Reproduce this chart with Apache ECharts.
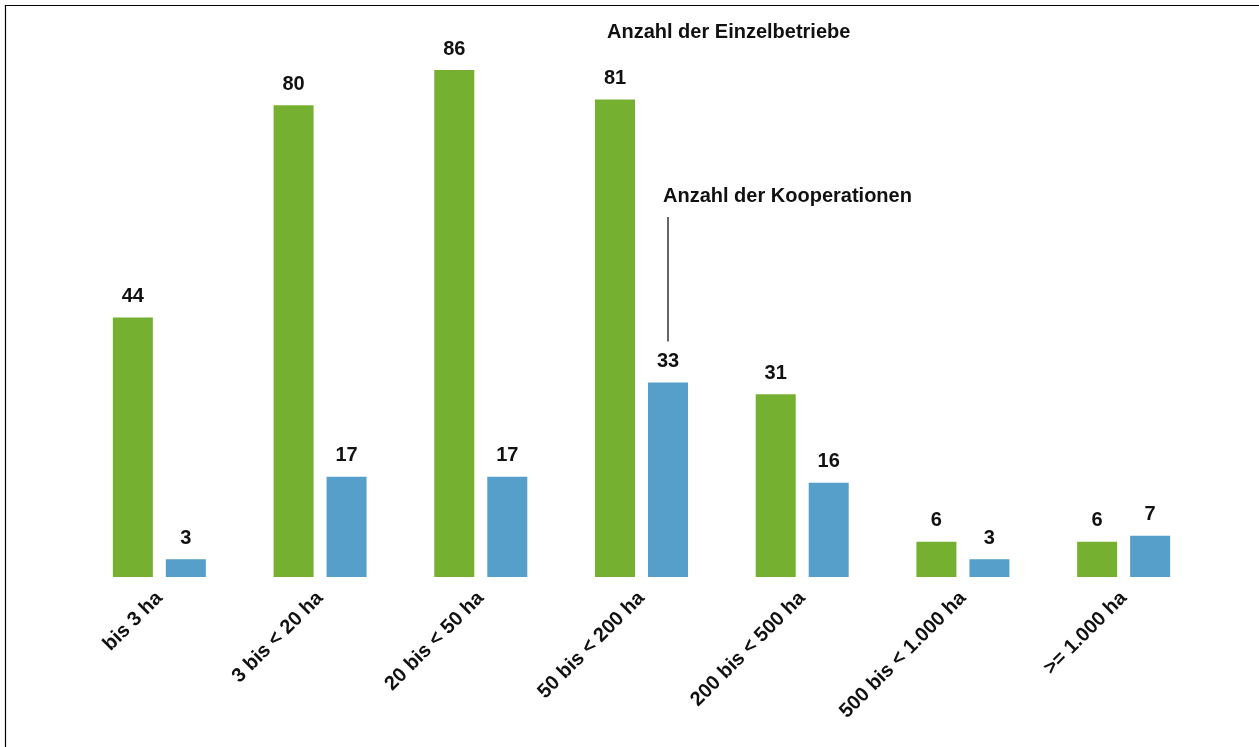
<!DOCTYPE html>
<html>
<head>
<meta charset="utf-8">
<script src="https://cdn.jsdelivr.net/npm/echarts@6/dist/echarts.min.js"></script>
<style>
html,body{margin:0;padding:0;background:#fff;}
#chart{width:1259px;height:747px;}
</style>
</head>
<body>
<div id="chart"></div>
<script>
const categories = ['bis 3 ha', '3 bis < 20 ha', '20 bis < 50 ha', '50 bis < 200 ha', '200 bis < 500 ha', '500 bis < 1.000 ha', '>= 1.000 ha'];
const einzelbetriebe = [44, 80, 86, 81, 31, 6, 6];
const kooperationen = [3, 17, 17, 33, 16, 3, 7];
const labelEinzel = 'Anzahl der Einzelbetriebe';
const labelKoop = 'Anzahl der Kooperationen';

const FONT = '"Liberation Sans", Arial, sans-serif';
const chart = echarts.init(document.getElementById('chart'), null, {renderer: 'canvas'});

const labelStyle = {
  show: true, position: 'top', distance: 11,
  color: '#111', fontSize: 20, fontWeight: 'bold', fontFamily: FONT
};

chart.setOption({
  animation: false,
  backgroundColor: '#fff',
  grid: {left: 79, right: 55, top: 70, bottom: 170, containLabel: false},
  xAxis: {
    type: 'category',
    data: categories,
    axisLine: {show: false},
    axisTick: {show: false},
    axisLabel: {rotate: 45, margin: 18, color: '#111', fontSize: 20, fontWeight: 'bold', fontFamily: FONT, interval: 0}
  },
  yAxis: {
    type: 'value', min: 0, max: 86,
    show: false, splitLine: {show: false}
  },
  series: [
    {type: 'bar', name: labelEinzel, data: einzelbetriebe, barWidth: 40, barGap: '32.5%',
     itemStyle: {color: '#76b031'}, label: labelStyle},
    {type: 'bar', name: labelKoop, data: kooperationen, barWidth: 40,
     itemStyle: {color: '#569fca'}, label: labelStyle}
  ]
});

// annotations
const koopIdx = 3;
const p = chart.convertToPixel({gridIndex: 0}, [koopIdx, kooperationen[koopIdx]]);
const lineX = p[0] + 26.5;
chart.setOption({
  graphic: [
    {type: 'line', shape: {x1: 5, y1: 5.5, x2: 1259, y2: 5.5}, style: {stroke: '#000', lineWidth: 1.2}, silent: true},
    {type: 'line', shape: {x1: 5.5, y1: 5, x2: 5.5, y2: 747}, style: {stroke: '#000', lineWidth: 1.2}, silent: true},
    {type: 'text', left: 607, top: 22, style: {text: labelEinzel, fontSize: 20, fontWeight: 'bold', fontFamily: FONT, fill: '#111'}},
    {type: 'text', left: 663, top: 186, style: {text: labelKoop, fontSize: 20, fontWeight: 'bold', fontFamily: FONT, fill: '#111'}},
    {type: 'line', shape: {x1: lineX, y1: 217, x2: lineX, y2: p[1] - 41}, style: {stroke: '#333', lineWidth: 1.5}, silent: true}
  ]
});
</script>
</body>
</html>
